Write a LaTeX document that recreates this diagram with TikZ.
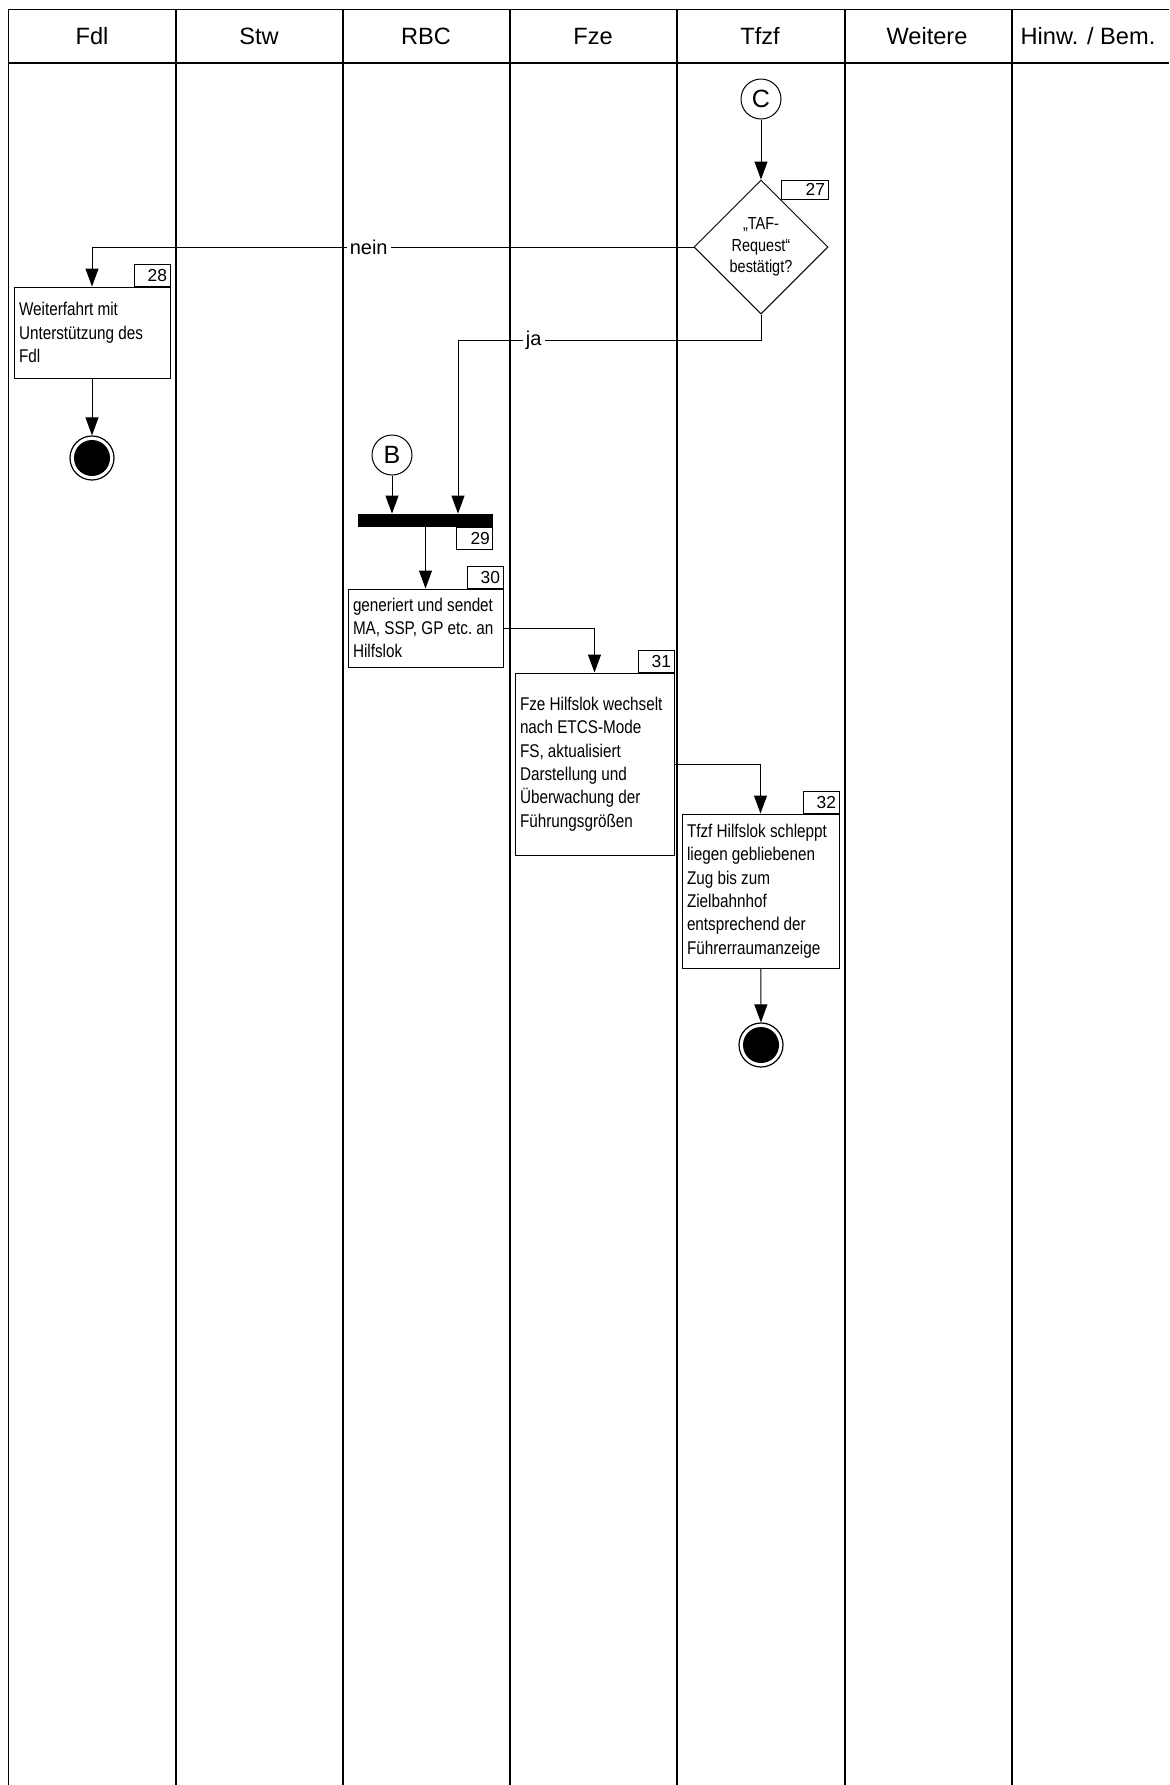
\documentclass[tikz,border=0pt]{standalone}
\usepackage{fontspec}
\setmainfont{Liberation Sans}
\newfontfamily\narrowsf{Liberation Sans}[FakeStretch=0.83]
\usetikzlibrary{arrows.meta,shapes.geometric}
\tikzset{
  lane/.style={line width=.8pt},
  head/.style={font=\fontsize{11.8}{14}\selectfont},
  arr/.style={line width=.5pt,-{Triangle[length=9pt,width=6.5pt]}},
  act/.style={draw,line width=.5pt,align=left,inner sep=2.5pt,font=\narrowsf\fontsize{9.2}{11.7}\selectfont,
    execute at begin node={\spaceskip=2.1pt plus .5pt\relax}},
  nr/.style={draw,line width=.5pt,fill=white,text width=15pt,minimum height=11pt,inner sep=1.5pt,align=right,font=\fontsize{8.7}{10}\selectfont},
  conn/.style={circle,draw,line width=.5pt,minimum size=20pt,inner sep=0pt,font=\fontsize{12.5}{13}\selectfont},
  endpt/.style={circle,draw,line width=.6pt,minimum size=22pt,inner sep=0pt,path picture={\fill (path picture bounding box.center) circle (9pt);}},
  lbl/.style={fill=white,inner sep=1.5pt,font=\fontsize{10}{12}\selectfont}
}
\begin{document}
\begin{tikzpicture}[x=.5pt,y=-.5pt]
\useasboundingbox (0,0) rectangle (1169,1785);
\draw[lane] (8.5,1785)--(8.5,9.5)--(1169,9.5); \draw[lane] (8.5,63)--(1169,63);
\foreach \x in {176,343,510,677,845,1012} \draw[lane] (\x,9.5)--(\x,1785);
\foreach \name [count=\i] in {Fdl,Stw,RBC,Fze,Tfzf,Weitere} \node[head] (h\i) at (167*\i-75,36) {\name};
\node[head] (h7) at (1088,36) {Hinw. / Bem.};

\node[conn] (C) at (761,99) {C};
\node[diamond,draw,line width=.5pt,minimum width=67pt,minimum height=67pt,inner sep=0pt,align=center,
  font=\narrowsf\fontsize{8.7}{10.75}\selectfont] (dia) at (761,247) {„TAF-\\Request“\\bestätigt?};
\node[nr,text width=20.5pt,minimum height=9.5pt,anchor=north east] (n27) at (dia.east |- dia.north) {27};
\node[act,text width=73pt,minimum height=45.5pt] (box28) at (92,332.5) {Weiterfahrt mit\\Unterstützung des\\Fdl};
\node[nr,anchor=south east] (n28) at (box28.north east) {28};
\node[endpt] (end1) at (92,458) {};
\node[conn] (B) at (392,455) {B};
\node[fill=black,minimum width=67.5pt,minimum height=6.5pt,inner sep=0pt] (sync) at (425.5,520.5) {};
\node[nr,anchor=north east] (n29) at (sync.south east) {29};
\coordinate (jabend) at (458,340);
\node[act,text width=72.5pt,minimum height=39pt] (box30) at (425.5,628) {generiert und sendet\\\mbox{MA, SSP, GP etc.\ an}\\Hilfslok};
\node[nr,anchor=south east] (n30) at (box30.north east) {30};
\node[act,text width=74.5pt,minimum height=91pt] (box31) at (594.5,764) {Fze Hilfslok wechselt\\nach ETCS-Mode\\FS, aktualisiert\\Darstellung und\\Überwachung der\\Führungsgrößen};
\node[nr,anchor=south east] (n31) at (box31.north east) {31};
\node[act,text width=73.5pt,minimum height=77pt] (box32) at (760.5,891) {Tfzf Hilfslok schleppt\\liegen gebliebenen\\Zug bis zum\\Zielbahnhof\\entsprechend der\\Führerraumanzeige};
\node[nr,anchor=south east] (n32) at (box32.north east) {32};
\node[endpt] (end2) at (761,1045) {};

\draw[arr] (C)--(dia);
\draw[arr] (dia.west) -| node[lbl,pos=.27] (nein) {nein} (box28.north);
\draw[arr] (box28)--(end1);
\draw[arr] (dia.south) |- node[lbl,pos=.875] (ja) {ja} (jabend) -- (jabend |- sync.north);
\draw[arr] (B)--(B |- sync.north);
\draw[arr] (box30.north |- sync.south)--(box30.north);
\draw[arr] (box30.east) -| (box31.north);
\draw[arr] (box31.east) -| (box32.north);
\draw[arr] (box32)--(end2);
\end{tikzpicture}
\end{document}
